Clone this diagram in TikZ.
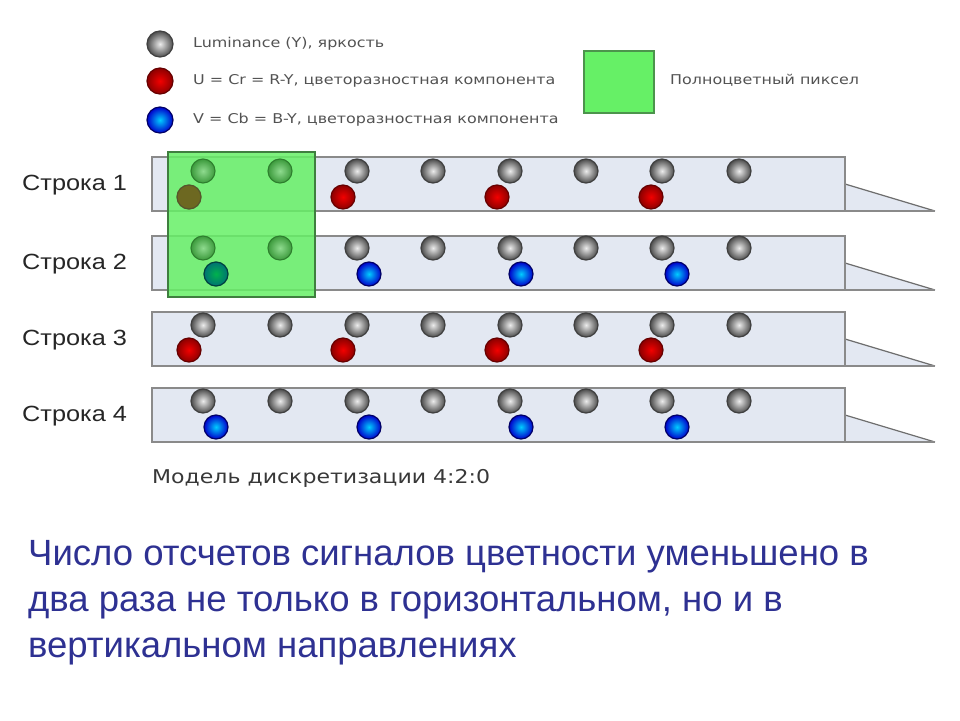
\documentclass[tikz,border=0pt]{standalone}
\usepackage{fontspec}
\setmainfont{Liberation Sans}
\newfontfamily\dejavuwide[FakeStretch=1.16]{DejaVu Sans}
\newfontfamily\dejavulegend[FakeStretch=1.18]{DejaVu Sans}
\newfontfamily\arialwide[FakeStretch=1.15]{Liberation Sans}
\definecolor{bartxt}{HTML}{2E3192}
\definecolor{barfill}{HTML}{E3E8F2}
\definecolor{barline}{HTML}{8A8A8A}
\definecolor{pixgreen}{HTML}{66F066}
\definecolor{pixedge}{HTML}{3F7F3F}
\definecolor{gin}{HTML}{8FDB8F}
\definecolor{gout}{HTML}{3C9A3C}
\definecolor{gedge}{HTML}{2E7D2E}
\tikzset{
  ball/.style={circle, inner sep=0pt, minimum size=24pt, line width=1.2pt},
  yball/.style={ball, shading=radial, inner color=white!85!gray, outer color=black!70, draw=black!75},
  rball/.style={ball, shading=radial, inner color=red!95!black, outer color=red!55!black, draw=red!40!black},
  bball/.style={ball, shading=radial, inner color=cyan!80!blue, outer color=blue!80!black, draw=blue!40!black},
  gball/.style={ball, shading=radial, inner color=gin, outer color=gout, draw=gedge, line width=1pt},
  oball/.style={ball, fill=olive!70!black, draw=olive!50!black},
  tball/.style={ball, shading=radial, inner color=teal!60!green, outer color=teal!90!black, draw=teal!50!black},
  legtxt/.style={anchor=west, inner sep=0pt, font=\dejavulegend\fontsize{13.5}{15}\selectfont, text=black!68},
  rowlbl/.style={anchor=west, inner sep=0pt, font=\arialwide\fontsize{22}{24}\selectfont, text=black!85},
  bar/.style={fill=barfill, draw=barline, line width=2pt},
}
\begin{document}
\begin{tikzpicture}[x=1pt,y=-1pt]
\useasboundingbox (0,0) rectangle (960,720);
% legend
\node[yball, minimum size=26pt] (ly) at (160,44) {};
\node[rball, minimum size=26pt] (lr) at (160,81) {};
\node[bball, minimum size=26pt] (lb) at (160,120) {};
\node[legtxt] (tly) at (193,44) {Luminance (Y), яркость};
\node[legtxt] (tlr) at (193,81) {U = Cr = R-Y, цветоразностная компонента};
\node[legtxt] (tlb) at (193,120) {V = Cb = B-Y, цветоразностная компонента};
\draw[fill=pixgreen, draw=black!60!green!70, line width=1.5pt] (584,51) rectangle (654,113);
\node[legtxt] (tlp) at (670,80) {Полноцветный пиксел};
% rows
\foreach \r/\yt in {1/157, 2/236, 3/312, 4/388} {
  \pgfmathsetmacro{\yb}{\yt+54}
  \pgfmathsetmacro{\ym}{\yt+27}
  \pgfmathsetmacro{\yk}{\yt+28}
  \fill[barfill] (845,\ym) -- (935,\yb) -- (845,\yb) -- cycle;
  \draw[barline!80!black, line width=1.2pt] (845,\ym) -- (935,\yb);
  \draw[barline, line width=1.5pt] (845,\yb) -- (935,\yb);
  \draw[bar] (152,\yt) rectangle (845,\yb);
  \node[rowlbl] (lbl\r) at (22,\yk) {Строка \r};
}
% luminance samples
\foreach \r/\y in {1/171, 2/248, 3/325, 4/401} {
  \foreach \i/\x in {1/203, 2/280, 3/357, 4/433, 5/510, 6/586, 7/662, 8/739} {
    \node[yball] (y\r-\i) at (\x,\y) {};
  }
}
\foreach \r/\y in {1/197, 3/350} {
  \foreach \i/\x in {1/189, 2/343, 3/497, 4/651} {
    \node[rball] (u\r-\i) at (\x,\y) {};
  }
}
\foreach \r/\y in {2/274, 4/427} {
  \foreach \i/\x in {1/216, 2/369, 3/521, 4/677} {
    \node[bball] (v\r-\i) at (\x,\y) {};
  }
}
% full-colour pixel overlay
\draw[fill=pixgreen, fill opacity=0.85, draw=pixedge, line width=1.5pt] (168,152) rectangle (315,297);
\node[gball] (g1) at (203,171) {};
\node[gball] (g2) at (280,171) {};
\node[gball] (g3) at (203,248) {};
\node[gball] (g4) at (280,248) {};
\node[oball] (go) at (189,197) {};
\node[tball] (gt) at (216,274) {};
% caption
\node[anchor=west, inner sep=0pt, font=\dejavuwide\fontsize{19}{21}\selectfont, text=black!78] (cap) at (152,478) {Модель дискретизации 4:2:0};
\node[anchor=north west, inner sep=0pt, align=left, font=\fontsize{36.5}{46}\selectfont, text=bartxt] (desc) at (28,540)
  {Число отсчетов сигналов цветности уменьшено в\\два раза не только в горизонтальном, но и в\\вертикальном направлениях};
\end{tikzpicture}
\end{document}
